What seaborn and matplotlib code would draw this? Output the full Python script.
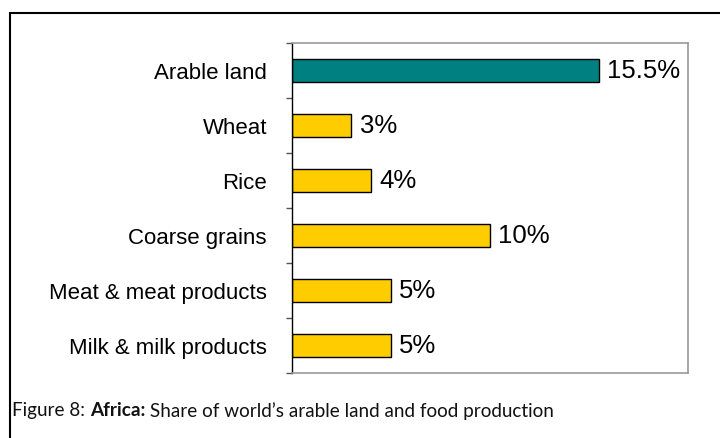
import matplotlib
matplotlib.use("Agg")
import matplotlib.pyplot as plt
import seaborn as sns
import pandas as pd
from matplotlib.patches import Rectangle
from matplotlib.ticker import FixedLocator

categories = ["Arable land", "Wheat", "Rice", "Coarse grains",
              "Meat & meat products", "Milk & milk products"]
shares = [15.5, 3, 4, 10, 5, 5]
value_labels = ["15.5%", "3%", "4%", "10%", "5%", "5%"]
bar_colors = ["#008080", "#FFCC00", "#FFCC00", "#FFCC00", "#FFCC00", "#FFCC00"]

caption_parts = [("Figure 8: ", "normal"), ("Africa:", "bold"),
                 (" Share of world\u2019s arable land and food production", "normal")]

df = pd.DataFrame({"category": categories, "share": shares})

sns.set_theme(style="white")
plt.rcParams["font.family"] = ["Liberation Sans", "DejaVu Sans"]

fig = plt.figure(figsize=(7.2, 4.39), dpi=100)
ax = fig.add_axes([292 / 720, 1 - 374 / 439, (688 - 292) / 720, (374 - 44) / 439])

sns.barplot(data=df, x="share", y="category", hue="category",
            palette=bar_colors, orient="h", width=0.42, legend=False,
            edgecolor="black", linewidth=1.0, saturation=1, ax=ax)

ax.set_xlim(0, 20)
ax.set_ylim(len(categories) - 0.5, -0.5)
ax.set_xlabel("")
ax.set_ylabel("")
ax.set_xticks([])

# category labels at bar centres, tick marks at category boundaries
ax.yaxis.set_minor_locator(FixedLocator([i - 0.5 for i in range(len(categories) + 1)]))
ax.tick_params(axis="y", which="major", length=0, pad=18, labelsize=16, labelcolor="black")
ax.tick_params(axis="y", which="minor", left=True, length=4, width=1, color="#555555")

for side in ["top", "right", "bottom"]:
    ax.spines[side].set_color("#9a9a9a")
    ax.spines[side].set_linewidth(1.2)
ax.spines["left"].set_color("black")
ax.spines["left"].set_linewidth(1.0)

for i, (v, lab) in enumerate(zip(shares, value_labels)):
    ax.annotate(lab, xy=(v, i), xytext=(6, 0), textcoords="offset points",
                ha="left", va="center", fontsize=18.5, color="black")

# outer frame of the figure panel
fig.patches.append(Rectangle((10 / 720, -0.1), 1.2, 1 - 14 / 439 + 0.1,
                             transform=fig.transFigure, fill=False,
                             edgecolor="black", linewidth=1.5))

# caption with a bold region name, laid out piece by piece
renderer = fig.canvas.get_renderer()
x_px = 12
y_fig = 1 - 411 / 439
for text, weight in caption_parts:
    t = fig.text(x_px / 720, y_fig, text, ha="left", va="center",
                 fontsize=13.6, fontweight=weight, color="#111111",
                 family=["Lato", "DejaVu Sans"])
    x_px += t.get_window_extent(renderer=renderer).width

fig.savefig("out.png", dpi=100)
